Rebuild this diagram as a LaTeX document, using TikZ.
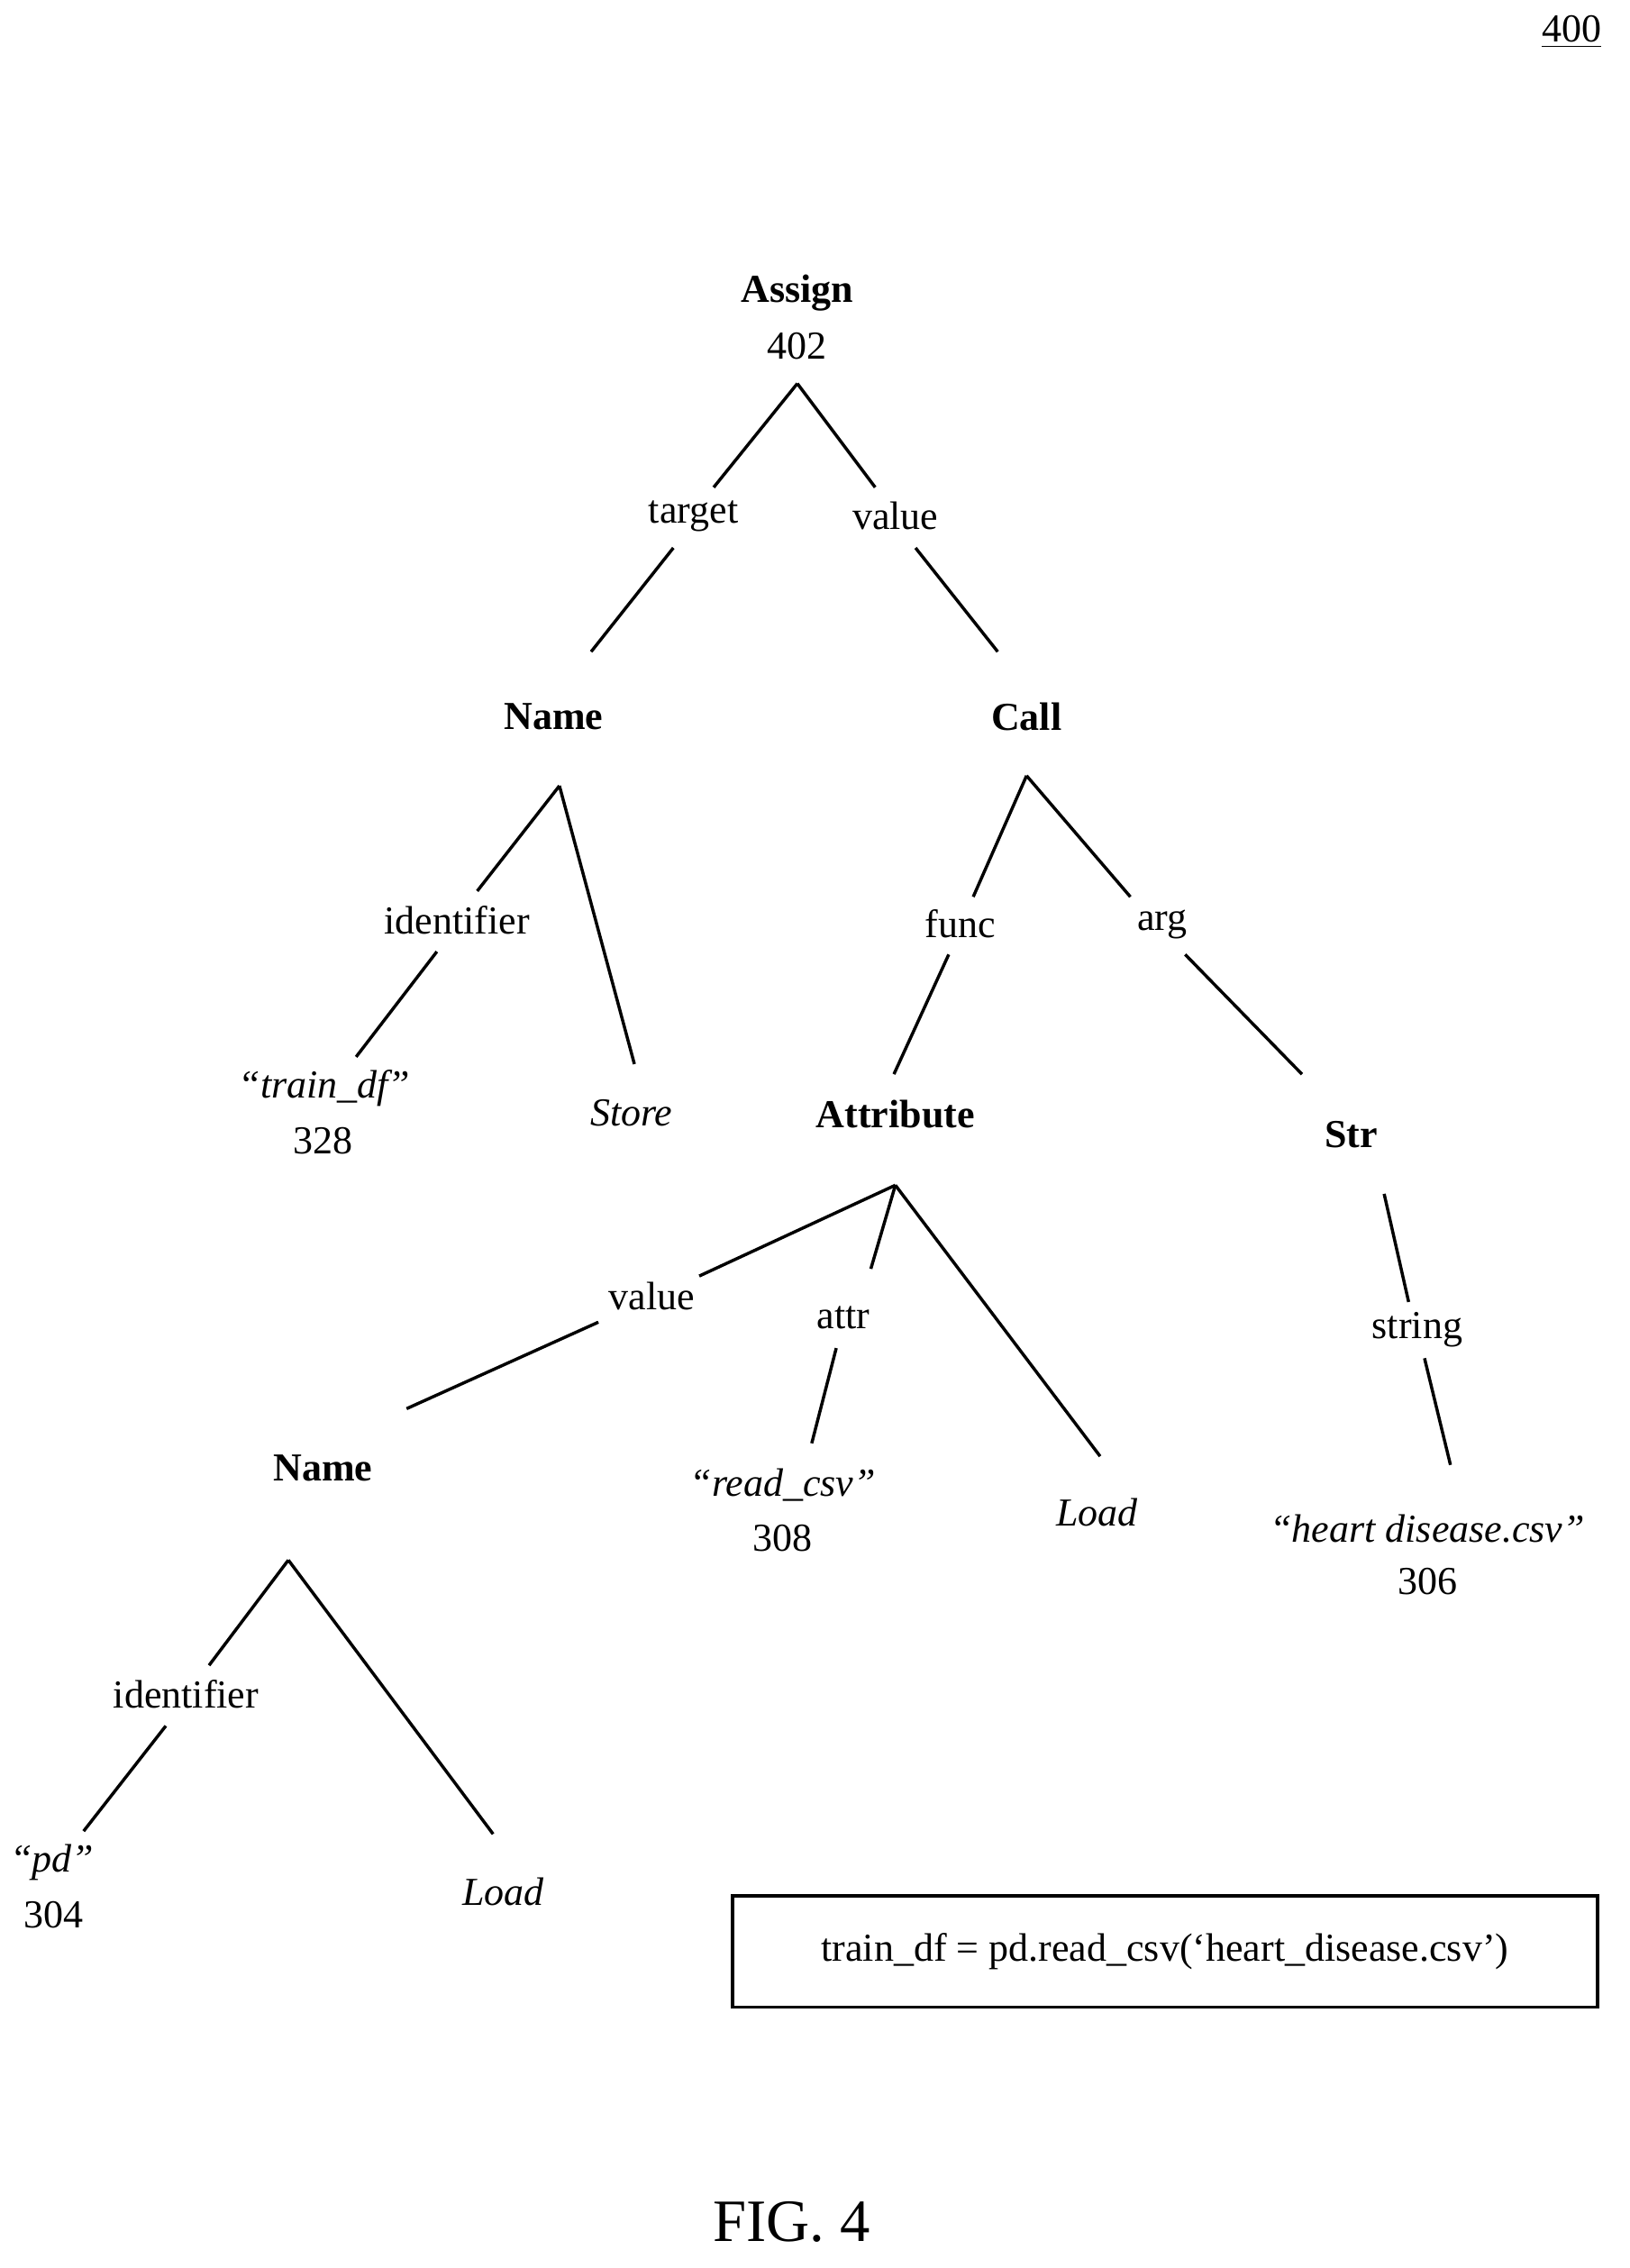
\documentclass[tikz,border=0pt]{standalone}
\usepackage{fontspec}
\setmainfont{Liberation Serif}
\begin{document}
\begin{tikzpicture}[x=0.6pt,y=-0.6pt,
  t/.style={font=\fontsize{16.5}{19}\selectfont,inner sep=0pt},
  b/.style={t,font=\fontsize{16.5}{19}\selectfont\bfseries},
  it/.style={t,font=\fontsize{16.5}{19}\selectfont\itshape},
  e/.style={line width=1.3pt}]
\useasboundingbox (0,0) rectangle (1130,1573);
\node[t] (fig) at (1090,22) {\underline{400}};
\node[b] (assign) at (553,203) {Assign};
\node[t] (n402) at (553,240) {402};
\node[t] (target) at (481,358) {target};
\node[t] (value1) at (621,358) {value};
\node[b] (name1) at (384,497) {Name};
\node[b] (call) at (712,497) {Call};
\node[t] (ident1) at (317,638) {identifier};
\node[it] (traindf) at (225,755) {“train\_df"};
\node[t] (n328) at (224,791) {328};
\node[it] (store) at (438,772) {Store};
\node[t] (func) at (666,641) {func};
\node[t] (arg) at (806,641) {arg};
\node[b] (attr) at (621,773) {Attribute};
\node[b] (str) at (937,787) {Str};
\node[t] (value2) at (452,899) {value};
\node[t] (attrl) at (585,914) {attr};
\node[it] (readcsv) at (543,1030) {“read\_csv"};
\node[t] (n308) at (543,1067) {308};
\node[it] (load1) at (761,1049) {Load};
\node[t] (string) at (983,922) {string};
\node[it] (heart) at (990,1060) {“heart disease.csv”};
\node[t] (n306) at (990,1097) {306};
\node[b] (name2) at (224,1018) {Name};
\node[t] (ident2) at (129,1175) {identifier};
\node[it] (pd) at (36,1292) {“pd"};
\node[t] (n304) at (37,1328) {304};
\node[it] (load2) at (349,1312) {Load};
\node[t,draw,line width=1.3pt,minimum width=600*0.6pt,minimum height=77*0.6pt] (code) at (808,1353.5) {train\_df = pd.read\_csv(‘heart\_disease.csv’)};
\node[t,font=\fontsize{25}{30}\selectfont] (fig4) at (549,1541) {FIG. 4};
% coordinates
\coordinate (a0) at (553,266);
\coordinate (a1) at (495,338); \coordinate (a2) at (607,338);
\coordinate (a3) at (467,380); \coordinate (a4) at (410,452);
\coordinate (a5) at (635,380); \coordinate (a6) at (692,452);
\coordinate (b0) at (388,545); \coordinate (b1) at (331,618); \coordinate (b2) at (440,738);
\coordinate (b3) at (303,660); \coordinate (b4) at (247,733);
\coordinate (c0) at (712,538); \coordinate (c1) at (675,622); \coordinate (c2) at (784,622);
\coordinate (c3) at (658,662); \coordinate (c4) at (620,745);
\coordinate (c5) at (822,662); \coordinate (c6) at (903,745);
\coordinate (d0) at (621,822); \coordinate (d1) at (485,885); \coordinate (d2) at (415,917); \coordinate (d3) at (282,977);
\coordinate (d4) at (604,880); \coordinate (d5) at (580,935); \coordinate (d6) at (563,1001);
\coordinate (d7) at (763,1010);
\coordinate (s0) at (960,828); \coordinate (s1) at (977,903); \coordinate (s2) at (988,942); \coordinate (s3) at (1006,1016);
\coordinate (f0) at (200,1082); \coordinate (f1) at (145,1155); \coordinate (f2) at (115,1197); \coordinate (f3) at (58,1270); \coordinate (f4) at (342,1272);
\draw[e] (a0)--(a1); \draw[e] (a0)--(a2); \draw[e] (a3)--(a4); \draw[e] (a5)--(a6);
\draw[e] (b0)--(b1); \draw[e] (b0)--(b2); \draw[e] (b3)--(b4);
\draw[e] (c0)--(c1); \draw[e] (c0)--(c2); \draw[e] (c3)--(c4); \draw[e] (c5)--(c6);
\draw[e] (d0)--(d1); \draw[e] (d2)--(d3); \draw[e] (d0)--(d4); \draw[e] (d5)--(d6); \draw[e] (d0)--(d7);
\draw[e] (s0)--(s1); \draw[e] (s2)--(s3);
\draw[e] (f0)--(f1); \draw[e] (f2)--(f3); \draw[e] (f0)--(f4);
\end{tikzpicture}
\end{document}
